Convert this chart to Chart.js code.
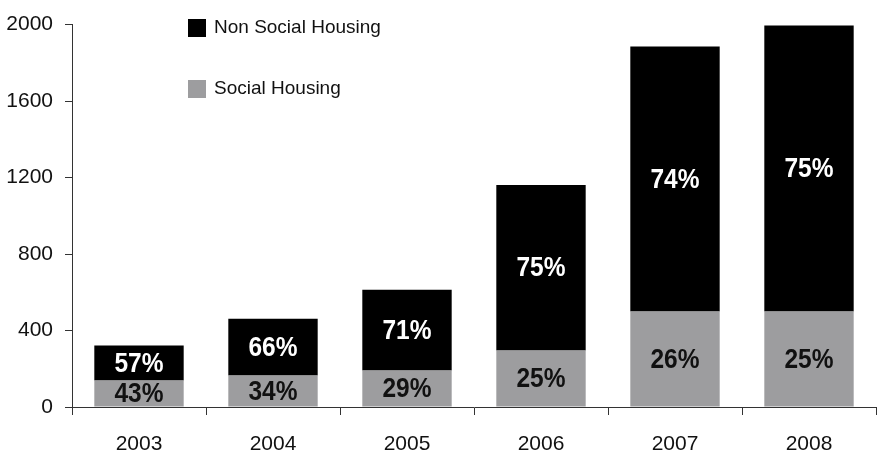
<!DOCTYPE html>
<html>
<head>
<meta charset="utf-8">
<script src="https://cdn.jsdelivr.net/npm/chart.js@4.4.1/dist/chart.umd.min.js"></script>
<style>
  html, body { margin: 0; padding: 0; background: #fff; }
  #wrap { width: 877px; height: 453px; position: relative; }
</style>
</head>
<body>
<div id="wrap"><canvas id="housing"></canvas></div>
<script>
var years = ['2003', '2004', '2005', '2006', '2007', '2008'];
var socialHousing = [139, 165, 191, 296, 499, 499];
var nonSocialHousing = [183, 297, 422, 865, 1387, 1496];
var socialPct = [43, 34, 29, 25, 26, 25];
var nonSocialPct = [57, 66, 71, 75, 74, 75];
var yTicks = [0, 400, 800, 1200, 1600, 2000];

var tickFont = { family: '"Liberation Sans", Arial, sans-serif', size: 21 };
var pctFont = 'bold 28px "Liberation Sans", Arial, sans-serif';

// percentage text in the middle of each segment, squeezed a little
var segmentLabels = {
    id: 'segmentLabels',
    afterDatasetsDraw: function (chart) {
        var ctx = chart.ctx;
        var squeeze = 0.875;
        ctx.save();
        ctx.font = pctFont;
        ctx.textAlign = 'center';
        ctx.textBaseline = 'middle';
        chart.data.datasets.forEach(function (ds, i) {
            var meta = chart.getDatasetMeta(i);
            meta.data.forEach(function (bar, j) {
                var mid = (bar.y + bar.base) / 2;
                ctx.save();
                ctx.translate(bar.x, mid + 1);
                ctx.scale(squeeze, 1);
                ctx.fillStyle = ds.labelColor;
                ctx.fillText(ds.pct[j] + '%', 0, 0);
                ctx.restore();
            });
        });
        ctx.restore();
    }
};

// stacked legend in the upper left of the plot
var boxLegend = {
    id: 'boxLegend',
    afterDraw: function (chart) {
        var ctx = chart.ctx;
        var items = chart.data.datasets.slice().reverse();
        ctx.save();
        ctx.font = '19px "Liberation Sans", Arial, sans-serif';
        ctx.textBaseline = 'middle';
        ctx.textAlign = 'left';
        items.forEach(function (ds, k) {
            var y = 19 + k * 61;
            ctx.fillStyle = ds.backgroundColor;
            ctx.fillRect(188, y, 18, 18);
            ctx.fillStyle = '#111';
            ctx.fillText(ds.label, 214, y + 9);
        });
        ctx.restore();
    }
};

new Chart(document.getElementById('housing'), {
    type: 'bar',
    data: {
        labels: years,
        datasets: [{
            label: 'Social Housing',
            data: socialHousing,
            pct: socialPct,
            labelColor: '#111',
            backgroundColor: '#9d9d9f',
            categoryPercentage: 1,
            barPercentage: 0.667
        }, {
            label: 'Non Social Housing',
            data: nonSocialHousing,
            pct: nonSocialPct,
            labelColor: '#fff',
            backgroundColor: '#000000',
            categoryPercentage: 1,
            barPercentage: 0.667
        }]
    },
    options: {
        responsive: true,
        maintainAspectRatio: false,
        animation: false,
        layout: { padding: { top: 23, right: 1, left: 0, bottom: 0 } },
        plugins: {
            legend: { display: false },
            tooltip: { enabled: false }
        },
        scales: {
            x: {
                stacked: true,
                grid: { drawOnChartArea: false, tickLength: 8, color: '#333', offset: true },
                border: { color: '#333', width: 1 },
                ticks: { color: '#111', font: tickFont, padding: 17 },
                afterFit: function (scale) { scale.height = 46; }
            },
            y: {
                stacked: true,
                min: 0,
                max: 2000,
                afterBuildTicks: function (scale) {
                    scale.ticks = yTicks.map(function (v) { return { value: v }; });
                },
                grid: { drawOnChartArea: false, tickLength: 7, color: '#333' },
                border: { color: '#333', width: 1 },
                ticks: {
                    color: '#111',
                    font: tickFont,
                    padding: 12,
                    callback: function (v) { return String(v); }
                },
                afterFit: function (scale) { scale.width = 72; }
            }
        }
    },
    plugins: [segmentLabels, boxLegend]
});
</script>
</body>
</html>
